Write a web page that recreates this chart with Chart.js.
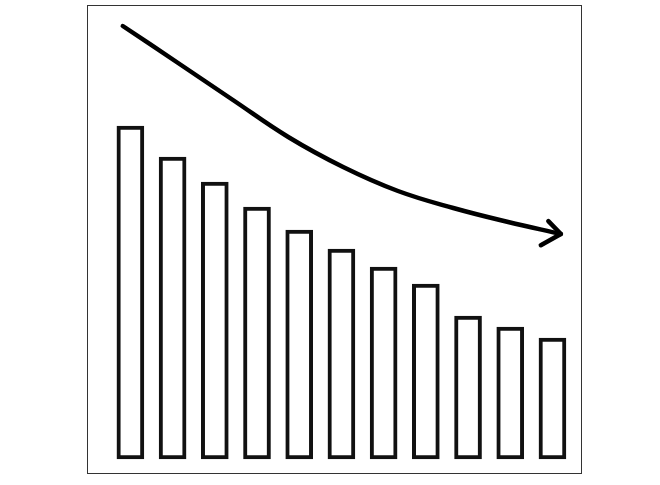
<!DOCTYPE html>
<html>
<head>
<meta charset="utf-8">
<script src="https://cdn.jsdelivr.net/npm/chart.js@4/dist/chart.umd.min.js"></script>
<style>
  html, body { margin: 0; padding: 0; background: #ffffff; }
  #wrap { width: 660px; height: 485px; }
</style>
</head>
<body>
<div id="wrap"><canvas id="c" width="660" height="485"></canvas></div>
<script>
// Categories (11 bars, unlabeled in the picture)
const categories = ["1", "2", "3", "4", "5", "6", "7", "8", "9", "10", "11"];
// Bar heights (arbitrary units)
const barValues = [333, 302, 277, 252, 229, 210, 192, 175, 143, 132, 121];
// Downward trend arrow (x in category-index units, y in the same value units)
const trendX = [-0.18, 1.13, 2.43, 3.74, 5.04, 6.34, 7.65, 8.95, 10.2];
const trendY = [433, 396, 359, 322, 292, 268, 251, 237, 225];

const frame = {
  id: 'frame',
  beforeDraw(chart) {
    const { ctx, chartArea: a } = chart;
    ctx.save();
    ctx.fillStyle = '#ffffff';
    ctx.fillRect(0, 0, chart.width, chart.height);
    ctx.strokeStyle = '#333333';
    ctx.lineWidth = 1;
    ctx.strokeRect(a.left + 0.5, a.top + 0.5, a.right - a.left - 1, a.bottom - a.top - 1);
    ctx.restore();
  }
};

const arrowHead = {
  id: 'arrowHead',
  afterDatasetsDraw(chart) {
    const meta = chart.getDatasetMeta(1);
    const pts = meta.data;
    if (!pts || pts.length < 2) return;
    const p = pts[pts.length - 1], q = pts[pts.length - 2];
    const ang = Math.atan2(p.y - q.y, p.x - q.x) + Math.PI;
    const ctx = chart.ctx;
    ctx.save();
    ctx.strokeStyle = '#000000';
    ctx.lineWidth = 4.5;
    ctx.lineCap = 'round';
    ctx.lineJoin = 'round';
    const a1 = ang + 33 * Math.PI / 180, l1 = 18;
    const a2 = ang - 42 * Math.PI / 180, l2 = 23;
    ctx.beginPath();
    ctx.moveTo(p.x + Math.cos(a1) * l1, p.y + Math.sin(a1) * l1);
    ctx.lineTo(p.x, p.y);
    ctx.lineTo(p.x + Math.cos(a2) * l2, p.y + Math.sin(a2) * l2);
    ctx.stroke();
    ctx.restore();
  }
};

new Chart(document.getElementById('c'), {
  type: 'bar',
  data: {
    labels: categories,
    datasets: [
      {
        type: 'bar',
        data: barValues.map((v, i) => ({ x: i, y: v })),
        backgroundColor: '#ffffff',
        borderColor: '#111111',
        borderWidth: 4,
        borderSkipped: false,
        barThickness: 27
      },
      {
        type: 'line',
        data: trendX.map((x, i) => ({ x: x, y: trendY[i] })),
        borderColor: '#000000',
        borderWidth: 4.5,
        pointRadius: 0,
        borderCapStyle: 'round',
        borderJoinStyle: 'round',
        tension: 0.4,
        fill: false,
        clip: false
      }
    ]
  },
  options: {
    responsive: false,
    animation: false,
    layout: { padding: { left: 87, right: 78, top: 5, bottom: 11 } },
    plugins: { legend: { display: false }, tooltip: { enabled: false } },
    scales: {
      x: { type: 'linear', offset: false, min: -1.028, max: 10.70, display: false },
      y: { min: -15, max: 454, display: false }
    }
  },
  plugins: [frame, arrowHead]
});
</script>
</body>
</html>
